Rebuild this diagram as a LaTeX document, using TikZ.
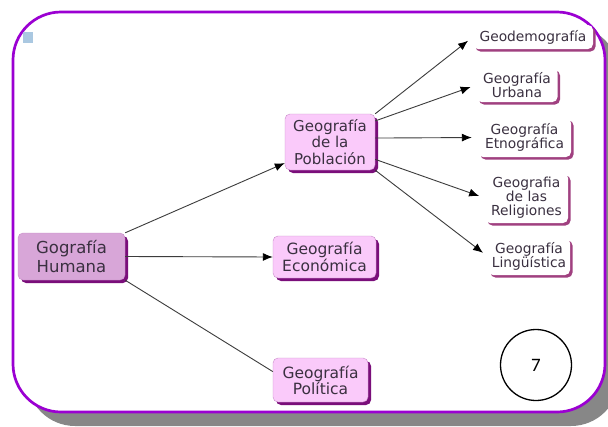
\documentclass[tikz,border=0pt]{standalone}
\usepackage{fontspec}
\setmainfont{DejaVu Sans}
\newfontfamily\numfont{Carlito}
\usepackage{tikz}
\usetikzlibrary{arrows.meta,shadows}

\definecolor{framepurple}{RGB}{155,0,210}
\definecolor{framegray}{RGB}{135,135,135}
\definecolor{humfill}{RGB}{216,166,216}
\definecolor{boxpink}{RGB}{250,202,250}
\definecolor{boxedge}{RGB}{200,140,200}
\definecolor{boxshadow}{RGB}{122,14,122}
\definecolor{leafshadow}{RGB}{160,64,128}
\definecolor{boxtext}{RGB}{58,48,64}
\definecolor{linkgray}{RGB}{60,60,60}
\definecolor{dotblue}{RGB}{170,200,225}

\begin{document}
\begin{tikzpicture}
  [x=1pt,y=-1pt,
   mainbox/.style={rectangle, rounded corners=5pt, draw=boxedge, fill=boxpink,
     text=boxtext, align=center, inner sep=0pt,
     general shadow={fill=boxshadow, shadow xshift=3pt, shadow yshift=-3pt}},
   leafbox/.style={rectangle, rounded corners=5pt, fill=white, text=boxtext,
     align=center, inner sep=0pt,
     font=\fontsize{13.8}{14}\selectfont,
     general shadow={fill=leafshadow, shadow xshift=2.5pt, shadow yshift=-2.5pt}},
   link/.style={draw=linkgray, line width=0.9pt},
   tip/.style={-{Latex[length=10pt,width=8pt,color=black]}},
   arrow/.style={link, tip, shorten >=6pt}]

  \useasboundingbox (0,0) rectangle (608,426);
  \clip (0,0) rectangle (608,426);

  % frame
  \fill[framegray, rounded corners=48pt] (27,26) rectangle (619,426);
  \filldraw[fill=white, draw=framepurple, line width=2.7pt, rounded corners=48pt]
    (13,12) rectangle (605,412);
  \fill[dotblue] (23,32) rectangle (33,43);

  % main boxes
  \node[mainbox, fill=humfill, minimum width=107pt, minimum height=47pt,
        font=\fontsize{16.5}{18.7}\selectfont] (hum) at (71.5,256.5) {Gografía\\Humana};
  \node[mainbox, minimum width=90pt, minimum height=56pt,
        font=\fontsize{15}{16.5}\selectfont] (pob) at (330,142) {Geografía\\de la\\Población};
  \node[mainbox, minimum width=103pt, minimum height=42pt,
        font=\fontsize{15.5}{16.3}\selectfont] (eco) at (324.5,257) {Geografía\\Económica};
  \node[mainbox, minimum width=95pt, minimum height=44pt,
        font=\fontsize{15.5}{16}\selectfont] (pol) at (320.5,380) {Geografía\\Política};

  % leaves
  \node[leafbox, minimum width=120pt, minimum height=24pt] (geo) at (533,37) {Geodemografía};
  \node[leafbox, minimum width=81pt, minimum height=34pt] (urb) at (517,85) {Geografía\\Urbana};
  \node[leafbox, minimum width=93pt, minimum height=39pt] (etn) at (524.5,137.5) {Geografía\\Etnográfica};
  \node[leafbox, minimum width=83pt, minimum height=50pt] (rel) at (526.5,198) {Geografia\\de las\\Religiones};
  \node[leafbox, minimum width=82pt, minimum height=37pt] (lin) at (529,256.5) {Geografía\\Lingüística};

  % page number
  \node[circle, draw=black, line width=1.3pt, minimum size=71pt, inner sep=0pt,
        font=\numfont\fontsize{19}{19}\selectfont] (num) at (536,365) {7};

  \foreach \from/\to in {hum.north east/pob.205,hum.east/eco.west}
    \draw[link, tip] (\from) -- (\to);
  \draw[link] (hum.south east) -- (pol.170);

  \foreach \from/\to in {pob.north east/geo.west,pob.25/urb.west,pob.5/etn.west,
                         pob.-21/rel.west,pob.south east/lin.west}
    \draw[arrow] (\from) -- (\to);

\end{tikzpicture}
\end{document}
